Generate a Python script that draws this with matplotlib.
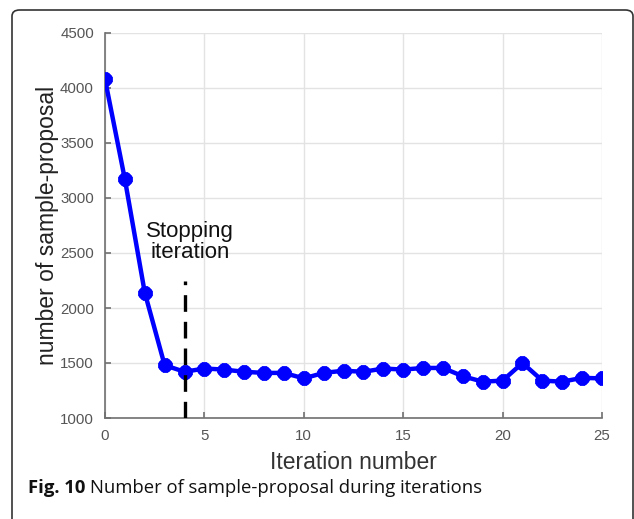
import numpy as np
import matplotlib.pyplot as plt
from matplotlib.patches import FancyBboxPatch

# values
iterations = np.arange(0, 26)
n_proposals = [4080, 3170, 2140, 1480, 1420, 1450, 1440, 1420, 1410, 1410,
               1360, 1410, 1430, 1420, 1450, 1440, 1455, 1455, 1380, 1330,
               1340, 1500, 1340, 1330, 1365, 1360]
stop_iter = 4
stop_top = 2250
x_ticks = [0, 5, 10, 15, 20, 25]
y_ticks = [1000, 1500, 2000, 2500, 3000, 3500, 4000, 4500]

W, H = 634, 519
fig = plt.figure(figsize=(W / 100, H / 100), dpi=100)

# panel border (open at the bottom like the cropped page)
border = FancyBboxPatch((12 / W, -0.2), (633 - 12) / W, (H - 10) / H + 0.2,
                        boxstyle="round,pad=0,rounding_size=0.012",
                        transform=fig.transFigure, fill=False,
                        edgecolor="#333333", linewidth=1.2)
fig.patches.append(border)

ax = fig.add_axes([105 / W, 1 - 418 / H, (602 - 105) / W, (418 - 33) / H])

ax.plot(iterations, n_proposals, color="#0000ff", linewidth=3.2,
        marker=(8, 2, 0), markersize=10, markeredgewidth=3.8,
        markeredgecolor="#0000ff", zorder=3)
ax.plot([stop_iter, stop_iter], [1000, stop_top], color="black",
        linewidth=2.4, dashes=(5, 3), zorder=4)
ax.text(stop_iter + 0.28, 2600, "Stopping\niteration", ha="center",
        va="center", fontsize=16, family="Liberation Sans",
        color="#111111", linespacing=1.05)

ax.set_xlim(0, 25)
ax.set_ylim(1000, 4500)
ax.set_xticks(x_ticks)
ax.set_yticks(y_ticks)
ax.grid(True, color="#e3e3e3", linewidth=1.0)
ax.set_axisbelow(True)
for side in ["top", "right"]:
    ax.spines[side].set_visible(False)
for side in ["left", "bottom"]:
    ax.spines[side].set_color("#707070")
    ax.spines[side].set_linewidth(1.2)
ax.tick_params(direction="in", length=4, width=1.2, color="#707070",
               labelsize=10.8, labelcolor="#555555", pad=8)
for lab in ax.get_xticklabels() + ax.get_yticklabels():
    lab.set_family("Liberation Sans")

ax.set_xlabel("Iteration number", fontsize=16.5, family="Liberation Sans",
              color="#333333", labelpad=6)
ax.set_ylabel("number of sample-proposal", fontsize=16.5,
              family="Liberation Sans", color="#222222", labelpad=1)

# caption
t1 = fig.text(28 / W, 1 - 493 / H, "Fig. 10", fontsize=13.3, family="Open Sans",
              fontweight="bold", color="#111111", va="baseline")
fig.canvas.draw()
bb = t1.get_window_extent()
fig.text((bb.x1 + 5) / W, 1 - 493 / H, "Number of sample-proposal during iterations",
         fontsize=13.3, family="Open Sans", color="#111111", va="baseline")

fig.savefig("out.png", dpi=100)
